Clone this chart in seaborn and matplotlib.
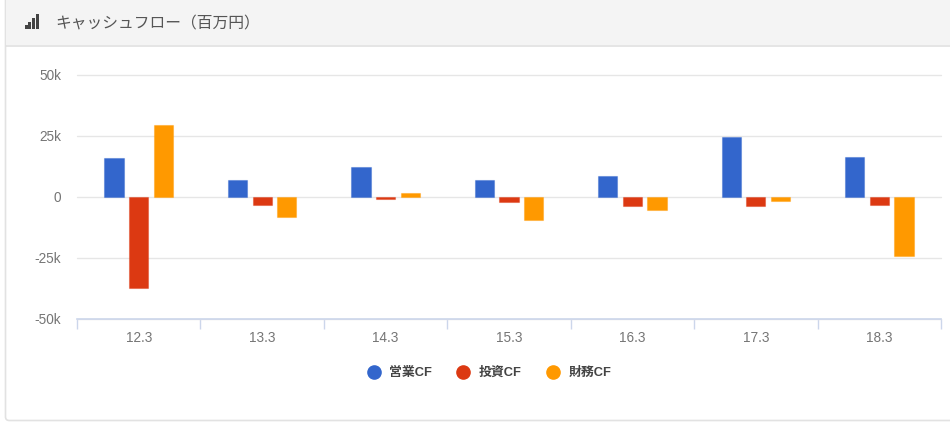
import numpy as np
import pandas as pd
import matplotlib.pyplot as plt
import seaborn as sns
from matplotlib.lines import Line2D
from matplotlib.patches import FancyBboxPatch, Rectangle

# Data (million yen, in thousands)
periods = ["12.3", "13.3", "14.3", "15.3", "16.3", "17.3", "18.3"]
operating = [15.8, 6.7, 12.2, 6.7, 8.6, 24.6, 16.2]
investing = [-37.4, -3.3, -0.8, -2.3, -3.7, -3.7, -3.3]
financing = [29.4, -8.3, 1.6, -9.6, -5.4, -1.8, -24.4]
series_names = ["営業CF", "投資CF", "財務CF"]
y_ticks = [-50, -25, 0, 25, 50]
y_labels = ["-50k", "-25k", "0", "25k", "50k"]
title = "キャッシュフロー（百万円）"
colors = ["#3366cc", "#dc3912", "#ff9900"]

sns.set_theme(style="white")
plt.rcParams["font.family"] = ["Liberation Sans", "Noto Sans CJK JP", "DejaVu Sans"]

W, H = 950, 424
fig = plt.figure(figsize=(W / 100, H / 100), dpi=100, facecolor="white")


def fx(px):
    return px / W


def fy(px):
    return 1 - px / H


# Card and header
fig.add_artist(FancyBboxPatch((fx(5.5), fy(420.5)), fx(960), 440 / H,
                              boxstyle="round,pad=0,rounding_size=0.004",
                              transform=fig.transFigure, facecolor="white",
                              edgecolor="#e2e2e2", linewidth=1.2, mutation_aspect=W / H,
                              zorder=-3))
fig.add_artist(Rectangle((fx(6), fy(45)), fx(944), 45 / H, transform=fig.transFigure,
                         facecolor="#f4f4f4", edgecolor="none", zorder=-2))
fig.add_artist(Line2D([fx(6), 1], [fy(45.5), fy(45.5)], transform=fig.transFigure,
                      color="#e0e0e0", linewidth=1.2, zorder=-2))

# Signal icon in the header
for left, top in zip([24.5, 28.3, 32.2, 36], [25, 22.5, 18.5, 13.5]):
    fig.add_artist(Rectangle((fx(left), fy(28.5)), fx(3), (28.5 - top) / H,
                             transform=fig.transFigure, facecolor="#444444", edgecolor="none"))

fig.text(fx(55), fy(24), title, fontsize=11.35, color="#555555", va="center", ha="left")

# Chart
df = pd.DataFrame({
    "period": periods * 3,
    "series": np.repeat(series_names, len(periods)),
    "value": operating + investing + financing,
})

ax = fig.add_axes([fx(77), fy(319), fx(864), (319 - 74.5) / H])
sns.barplot(data=df, x="period", y="value", hue="series", palette=colors,
            width=0.6, gap=0.22, dodge=True, saturation=1, legend=False, ax=ax, zorder=3)

# Soft edge on the bars, like the reference
for bar in ax.patches:
    r, g, b, _ = bar.get_facecolor()
    bar.set_edgecolor((r, g, b, 0.4))
    bar.set_linewidth(0.8)

ax.set_xlim(-0.5, len(periods) - 0.5)
ax.set_ylim(-50, 50)
ax.set_xlabel("")
ax.set_ylabel("")
ax.set_facecolor("none")

for s in ["top", "left", "right"]:
    ax.spines[s].set_visible(False)
ax.spines["bottom"].set_color("#ccd6eb")
ax.spines["bottom"].set_linewidth(1.2)

ax.set_yticks(y_ticks)
ax.set_yticklabels(y_labels)
ax.grid(axis="y", color="#e6e6e6", linewidth=1)
for line in ax.get_ygridlines():
    line.set_clip_on(False)
ax.set_axisbelow(True)
ax.tick_params(axis="y", length=0, pad=11.5, labelsize=9.8, labelcolor="#757575")

ax.set_xticks(range(len(periods)))
ax.set_xticks(np.arange(-0.5, len(periods)), minor=True)
ax.tick_params(axis="x", which="major", bottom=False, length=0, pad=9, labelsize=9.8, labelcolor="#757575")
ax.tick_params(axis="x", which="minor", bottom=True, length=7.2, width=1, color="#ccd6eb", direction="out")

# Legend with round markers
handles = [Line2D([], [], linestyle="none", marker="o", markersize=9.5, color=c) for c in colors]
fig.legend(handles, series_names, loc="center", bbox_to_anchor=(fx(486), fy(373)),
           ncol=3, frameon=False, handletextpad=0.2, columnspacing=1.42,
           prop={"family": ["Liberation Sans", "Noto Sans CJK JP", "DejaVu Sans"], "weight": "bold", "size": 9.3},
           labelcolor="#444444")

fig.savefig("out.png", dpi=100)
